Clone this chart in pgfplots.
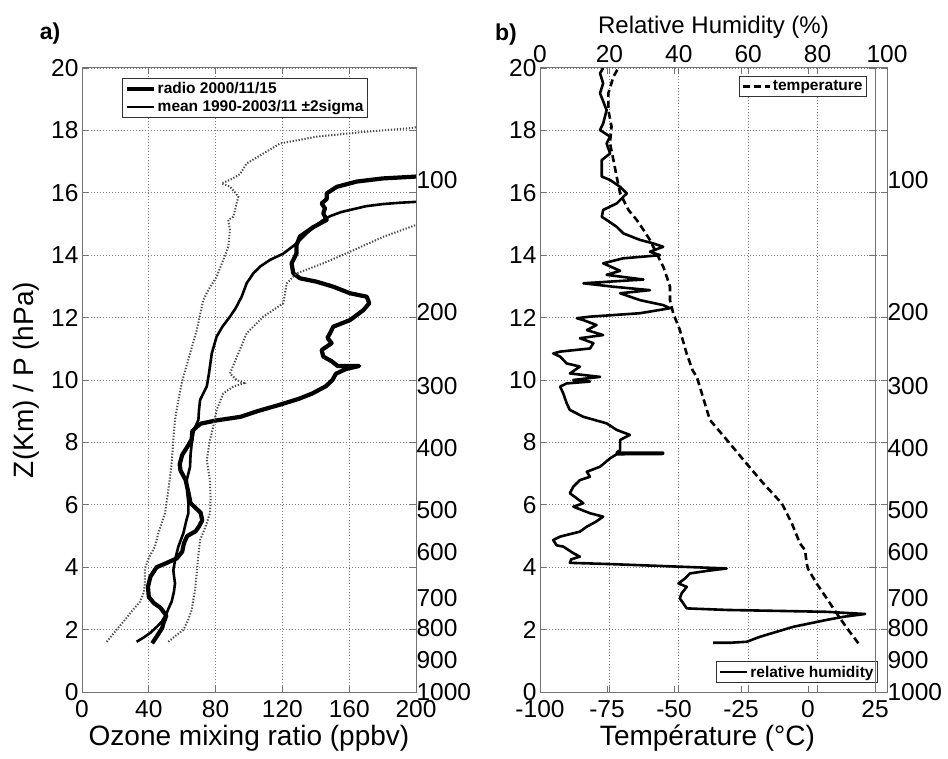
\documentclass[border=0pt]{standalone}
\usepackage{fontspec}
\setmainfont{Liberation Sans}
\usepackage{pgfplots}
\pgfplotsset{compat=1.18}

\definecolor{framegray}{gray}{0.45}
\definecolor{dotgray}{gray}{0.3}

\pgfplotsset{
  myaxis/.style={
    scale only axis, height=624pt, ymin=0, ymax=20,
    axis line style={framegray, line width=1pt},
    every tick/.style={framegray, line width=0.9pt},
    major tick length=6pt,
    tick label style={font=\fontsize{24.5}{26}\selectfont},
    label style={font=\fontsize{28}{30}\selectfont},
    /pgf/number format/assume math mode=true,
    grid style={dash pattern=on 1pt off 2pt, line width=0.9pt, black!50},
    no markers,
    legend cell align=left,
    legend style={font=\fontsize{15.5}{17}\selectfont\bfseries, draw=black!80, line width=0.9pt,
      inner sep=2pt, row sep=1.5pt},
    legend image code/.code={\draw[#1] (0pt,0pt) -- (27pt,0pt);},
  },
  plabels/.style={
    scale only axis, height=624pt, ymin=0, ymax=20, xmin=0, xmax=1,
    hide x axis, axis y line*=right, y axis line style={draw=none},
    major tick length=0pt,
    ytick={0,1.03,2.04,3.0,4.5,5.83,7.81,9.79,12.19,16.4},
    yticklabels={1000,900,800,700,600,500,400,300,200,100},
    tick label style={font=\fontsize{24.5}{26}\selectfont},
    yticklabel style={xshift=-3pt},
  },
}

\begin{document}
\begin{tikzpicture}
\useasboundingbox (0,0) rectangle (948pt,758pt);

% ---------------- panel a ----------------
\begin{axis}[myaxis, at={(82pt,66pt)}, anchor=south west, width=334pt,
  xmin=0, xmax=200, xtick={0,40,...,200}, ytick={0,2,...,20}, grid=major,
  xticklabel style={yshift=-5pt},
  xlabel={Ozone mixing ratio (ppbv)}, ylabel={Z(Km) / P (hPa)},
  ylabel style={yshift=5pt},
  legend style={at={(0.12,1)}, anchor=north west, yshift=-10pt}]
\addplot[black, line width=4.2pt, line join=round] coordinates {
(42,1.56) (45,1.8) (48,2.05) (48.7,2.2) (50.5,2.45) (47,2.7) (43,2.85) (40,3.05)
(39.5,3.37) (41,3.7) (44.7,4.0) (50,4.12) (56.7,4.28) (60,4.5) (61,4.76) (63,5.0)
(68,5.15) (70,5.3) (72,5.5) (71,5.75) (68,5.9) (65,6.05) (63.7,6.4) (62,6.8)
(59,7.1) (58.5,7.3) (60,7.6) (63,7.85) (65.7,8.1) (66,8.35) (67.7,8.45) (71,8.6)
(80,8.7) (95,8.82) (105,9.0) (118,9.2) (130,9.4) (138,9.57) (146,9.8) (150,10.0)
(152,10.2) (158,10.35) (166,10.45) (153,10.45) (149.5,10.6) (144.5,10.75)
(143.5,10.96) (149.5,11.18) (147,11.35) (148.5,11.5) (150.5,11.71) (160.5,11.92)
(168.5,12.24) (172,12.46) (170.5,12.67) (160.5,12.78) (150.5,12.99) (140.5,13.15)
(130.5,13.26) (126.5,13.42) (125.5,13.74) (128.5,14.06) (128.5,14.33) (130.5,14.6)
(138.5,14.9) (146.5,15.13) (144.5,15.34) (145.5,15.5) (143.5,15.66) (146.5,15.8)
(146.5,15.98) (152.5,16.19) (164.5,16.36) (180,16.46) (200,16.52)};
\addlegendentry{radio 2000/11/15}
\addplot[black, line width=2.6pt, line join=round] coordinates {
(32.7,1.61) (37,1.75) (41,1.9) (45,2.1) (47.7,2.25) (50.5,2.5) (52,2.7) (53.7,2.9)
(55,3.2) (55.7,3.48) (55,3.75) (54.7,3.91) (56,4.3) (57.7,4.66) (60.7,5.09)
(62.5,5.5) (63.7,5.73) (63.7,6.05) (63,6.4) (62.7,6.79) (64.7,7.22) (65,7.6)
(65.7,7.97) (67,8.4) (69.7,8.72) (70,9.0) (70.7,9.36) (74.7,9.79) (76,10.2)
(77.7,10.85) (80.6,11.39) (84,11.7) (88.6,12.03) (92,12.3) (95.6,12.67) (98.6,13.1)
(102.6,13.42) (107,13.65) (112.6,13.85) (120.5,14.05) (128.6,14.38) (134.5,14.7)
(140,14.95) (144.5,15.13) (148.5,15.25) (155,15.38) (160.5,15.45) (170,15.57)
(180.4,15.64) (190,15.68) (200,15.71)};
\addlegendentry{mean 1990-2003/11 ±2sigma}
\addplot[dotgray, line width=2pt, dash pattern=on 1.3pt off 1.7pt, forget plot] coordinates {
(14.8,1.61) (20,1.95) (25.7,2.31) (30,2.6) (34.7,2.89) (37,3.2) (37.7,3.48)
(37.7,3.96) (40,4.3) (43.7,4.66) (45.7,5.09) (49.7,5.73) (51.7,6.47) (53.7,7.33)
(54.7,8.08) (55.7,8.72) (57.7,9.36) (59.7,9.89) (60.7,10.1) (64.7,10.85) (68.7,11.6)
(72.6,12.56) (75.6,12.88) (80.6,13.31) (84.6,13.85) (87.6,14.27) (88.6,14.8)
(87.6,15.13) (90.6,15.23) (93.6,15.88) (88.6,16.2) (83.6,16.3) (90,16.45)
(94.6,16.6) (98.6,16.94) (108.6,17.26) (118.6,17.58) (140.5,17.8) (170.5,17.96)
(196.4,18.07) (200,18.1)};
\addplot[dotgray, line width=2pt, dash pattern=on 1.3pt off 1.7pt, forget plot] coordinates {
(51.7,1.61) (56,1.8) (60.7,1.99) (63.5,2.3) (65.7,2.63) (67.7,3.27) (68.7,3.8)
(69.5,4.3) (70.7,4.87) (74,5.3) (76.6,5.73) (77,6.2) (76.6,6.79) (74.7,7.44)
(76.6,8.08) (78.6,8.5) (80.6,9.04) (84.6,9.57) (90.6,9.79) (97,9.9) (92.6,10.0)
(88.6,10.21) (93.6,10.85) (98.6,11.5) (108.6,12.03) (120.5,12.46) (122.6,13.1)
(128.6,13.42) (144.5,13.74) (160.5,14.11) (180.4,14.59) (200,14.97)};
\end{axis}
\begin{axis}[plabels, at={(82pt,66pt)}, anchor=south west, width=334pt]
\end{axis}

% ---------------- panel b: relative humidity ----------------
\begin{axis}[myaxis, at={(540pt,66pt)}, anchor=south west, width=347pt,
  xmin=0, xmax=100, xtick={0,20,...,100}, ytick={0,2,...,20}, yticklabels={},
  xticklabel pos=upper, xtick pos=both, grid=major,
  xticklabel style={yshift=2pt},
  xlabel={Relative Humidity (\%)},
  xlabel style={font=\fontsize{24}{26}\selectfont},
  legend style={at={(1,0)}, anchor=south east, xshift=-9pt, yshift=9pt}]
\addplot[black, line width=2.6pt, line join=round] coordinates {
(49.9,1.58) (55,1.58) (59.6,1.61) (63.4,1.77) (73,2.09) (82.6,2.31) (87.4,2.41)
(93.7,2.5) (82.6,2.57) (53.8,2.63) (42.3,2.68) (41.3,2.84) (40.3,3.0) (40.8,3.16)
(42.3,3.37) (39.9,3.48) (41.8,3.64) (43.2,3.8) (48,3.88) (53.8,3.96) (39.4,4.02)
(20.2,4.1) (8.6,4.14) (9,4.25) (11.5,4.34) (9.6,4.45) (6.7,4.66) (4.8,4.7)
(3.8,4.87) (5.8,4.98) (11.5,5.14) (13.5,5.3) (16,5.45) (18.2,5.62) (14.4,5.73)
(9.6,5.94) (12.5,6.05) (8.6,6.37) (9.6,6.58) (11.5,6.79) (14.4,6.9) (13.5,7.06)
(17.3,7.22) (20.2,7.49) (22.1,7.62) (35.5,7.63) (35.5,7.67) (22.1,7.67) (23.1,7.76)
(23.1,8.08) (25.9,8.24) (22.1,8.4) (19.2,8.61) (12.5,8.82) (8.6,9.04) (7.7,9.25)
(6.7,9.57) (5.8,9.79) (7.7,9.89) (14.4,9.95) (9.6,10.0) (17.3,10.1) (8.6,10.21)
(11.5,10.43) (7.7,10.53) (5.8,10.75) (3.8,10.85) (5.8,10.91) (14.4,11.01)
(15.4,11.18) (11.5,11.34) (18.2,11.44) (13.5,11.6) (16.3,11.76) (12.5,11.92)
(10.6,11.98) (14.4,12.03) (28.8,12.14) (37.5,12.3) (35.5,12.4) (28.8,12.56)
(23.1,12.78) (31.7,12.88) (21.1,12.99) (12.5,13.1) (29.8,13.22) (19.2,13.37)
(23.1,13.5) (18.2,13.74) (24.0,13.9) (34.6,14.0) (31.7,14.11) (35.5,14.27)
(32.6,14.38) (28.8,14.49) (24.0,14.7) (22.1,14.91) (19.2,15.13) (17.8,15.23)
(18.2,15.45) (22.1,15.66) (25.0,15.98) (23.1,16.19) (20.2,16.41) (17.8,16.52)
(17.8,17.05) (20.2,17.26) (19.2,17.58) (20.2,17.8) (17.3,18.01) (18.2,18.22)
(19.2,18.65) (17.3,19.19) (18.2,19.51) (17.3,19.83) (18.2,20.0)};
\addlegendentry{relative humidity}
\end{axis}

% ---------------- panel b: temperature ----------------
\begin{axis}[myaxis, at={(540pt,66pt)}, anchor=south west, width=335pt,
  xmin=-100, xmax=25, xtick={-100,-75,...,25}, ytick={0,2,...,20},
  xticklabel style={yshift=-5pt},
  xlabel={Température (°C)},
  legend style={at={(1,1)}, anchor=north east, xshift=-8pt, yshift=-8pt}]
\addplot[black, line width=2.6pt, dash pattern=on 7pt off 4pt] coordinates {
(18.8,1.56) (14.5,2.05) (10.7,2.52) (7,3.0) (3.2,3.48) (0,3.95) (-0.5,4.12)
(-1.1,4.55) (-3.0,4.76) (-6,5.4) (-9.8,6.05) (-16.7,6.69) (-24.1,7.44) (-30.3,8.08)
(-36.6,8.72) (-40,9.68) (-41.5,10.1) (-43,10.3) (-45.3,10.85) (-47.8,11.6)
(-50.3,12.14) (-51.5,12.56) (-51.5,12.99) (-52.7,13.31) (-54.0,13.63) (-56.5,14.06)
(-59.0,14.49) (-61.4,14.81) (-63.9,15.13) (-67.0,15.45) (-70.1,15.98) (-71.4,16.52)
(-72.6,17.05) (-73.9,17.59) (-73.3,18.12) (-74.5,18.65) (-74.5,19.19) (-72.6,19.72)
(-70.8,20.0)};
\addlegendentry{temperature}
\end{axis}
\begin{axis}[plabels, at={(540pt,66pt)}, anchor=south west, width=347pt]
\end{axis}

\node[font=\fontsize{23}{24}\selectfont\bfseries] at (50pt,724pt) {a)};
\node[font=\fontsize{23}{24}\selectfont\bfseries] at (506pt,723pt) {b)};
\end{tikzpicture}
\end{document}
